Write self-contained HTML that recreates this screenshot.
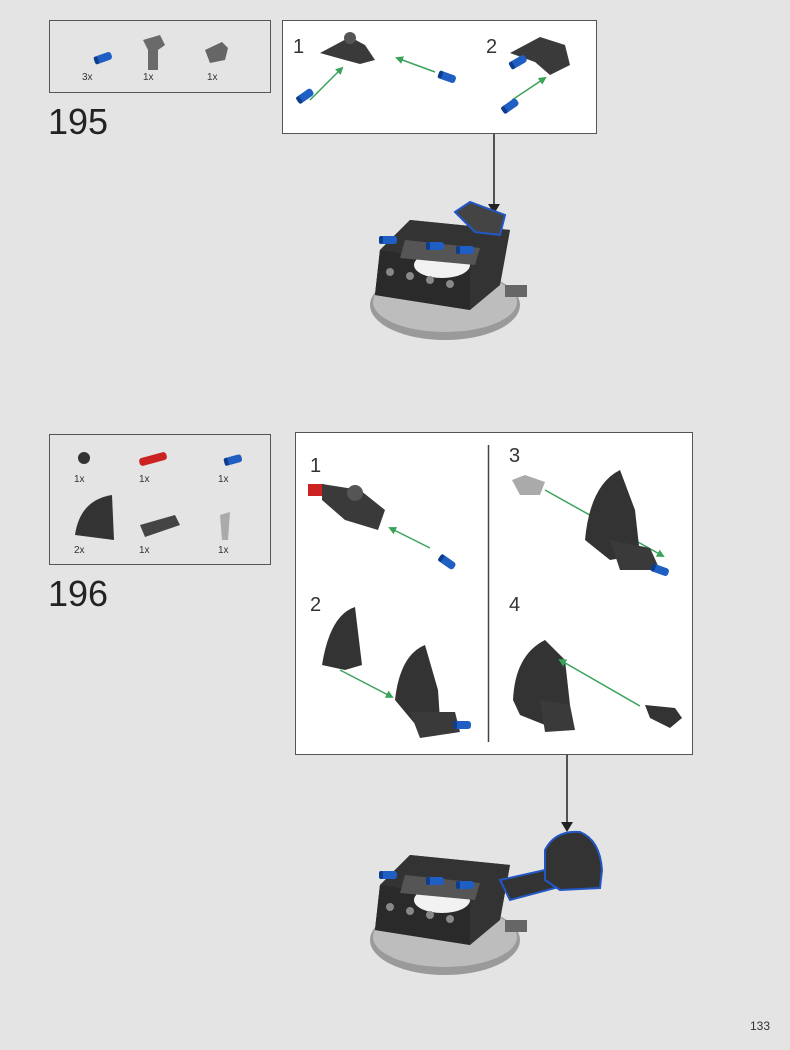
<!DOCTYPE html>
<html><head><style>
body{margin:0;background:#e4e4e4;}
svg{display:block;font-family:"Liberation Sans",sans-serif;}
</style></head><body>
<svg width="790" height="1050" viewBox="0 0 790 1050">
<defs>
<marker id="ah" markerWidth="10" markerHeight="12" refX="8" refY="6" orient="auto" markerUnits="userSpaceOnUse"><path d="M0,0 L10,6 L0,12 Z" fill="#222"/></marker>
<marker id="ga" markerWidth="8" markerHeight="8" refX="6" refY="4" orient="auto" markerUnits="userSpaceOnUse"><path d="M0,0 L8,4 L0,8 Z" fill="#3aa35a"/></marker>
<g id="pin"><rect x="-9" y="-4" width="18" height="8" rx="3" fill="#1f5fc4"/><rect x="-9" y="-4" width="4" height="8" rx="2" fill="#0e3d8c"/></g>
<g id="base">
<path d="M0,40 L30,10 L130,20 L120,75 L90,100 L-5,85 Z" fill="#3a3a3a"/>
<ellipse cx="65" cy="95" rx="75" ry="35" fill="#9a9a9a"/>
<ellipse cx="65" cy="92" rx="72" ry="30" fill="#bdbdbd"/>
<path d="M0,40 L30,10 L130,20 L120,75 L90,100 L-5,85 Z" fill="#333"/>
<path d="M0,40 L90,55 L90,100 L-5,85 Z" fill="#2a2a2a"/>
<ellipse cx="62" cy="55" rx="28" ry="13" fill="#f2f2f2"/>
<path d="M25,30 L100,38 L95,55 L20,48 Z" fill="#555"/>
<circle cx="10" cy="62" r="4" fill="#888"/><circle cx="30" cy="66" r="4" fill="#888"/><circle cx="50" cy="70" r="4" fill="#888"/><circle cx="70" cy="74" r="4" fill="#888"/>
<rect x="125" y="75" width="22" height="12" fill="#666"/>
<use href="#pin" transform="translate(8,30)"/>
<use href="#pin" transform="translate(55,36)"/>
<use href="#pin" transform="translate(85,40)"/>
</g>
</defs>

<!-- 195 -->
<rect x="49.5" y="20.5" width="221" height="72" fill="#e4e4e4" stroke="#555" stroke-width="1"/>
<use href="#pin" transform="translate(103,58) rotate(-20)"/>
<path d="M143,40 L160,35 L165,45 L158,50 L158,70 L148,70 L148,50 Z" fill="#6a6a6a"/>
<path d="M205,50 L222,42 L228,48 L225,60 L210,63 Z" fill="#666"/>
<text x="82" y="80" font-size="10" fill="#333">3x</text>
<text x="143" y="80" font-size="10" fill="#333">1x</text>
<text x="207" y="80" font-size="10" fill="#333">1x</text>
<text x="48" y="134" font-size="36" fill="#222">195</text>

<rect x="282.5" y="20.5" width="314" height="113" fill="#fff" stroke="#555"/>
<text x="293" y="53" font-size="20" fill="#333">1</text>
<text x="486" y="53" font-size="20" fill="#333">2</text>
<path d="M320,53 L350,37 L365,45 L375,60 L360,64 L345,60 Z" fill="#3a3a3a"/>
<circle cx="350" cy="38" r="6" fill="#555"/>
<line x1="310" y1="100" x2="342" y2="68" stroke="#3aa35a" stroke-width="1.5" marker-end="url(#ga)"/>
<use href="#pin" transform="translate(305,96) rotate(-35)"/>
<line x1="435" y1="72" x2="397" y2="58" stroke="#3aa35a" stroke-width="1.5" marker-end="url(#ga)"/>
<use href="#pin" transform="translate(447,77) rotate(20)"/>
<path d="M510,53 L540,37 L565,45 L570,65 L550,75 L535,62 Z" fill="#3a3a3a"/>
<use href="#pin" transform="translate(518,62) rotate(-30)"/>
<line x1="512" y1="100" x2="545" y2="78" stroke="#3aa35a" stroke-width="1.5" marker-end="url(#ga)"/>
<use href="#pin" transform="translate(510,106) rotate(-35)"/>

<line x1="494" y1="134" x2="494" y2="212" stroke="#222" stroke-width="1.5" marker-end="url(#ah)"/>
<use href="#base" transform="translate(380,210)"/>
<path d="M455,212 L470,202 L505,215 L500,235 L475,232 Z" fill="#444" stroke="#2357c4" stroke-width="2"/>

<!-- 196 -->
<rect x="49.5" y="434.5" width="221" height="130" fill="#e4e4e4" stroke="#555"/>
<circle cx="84" cy="458" r="6" fill="#333"/>
<rect x="139" y="455" width="28" height="8" rx="3" fill="#c22" transform="rotate(-15 153 459)"/>
<use href="#pin" transform="translate(233,460) rotate(-15)"/>
<path d="M75,535 Q80,500 112,495 L114,540 Z" fill="#333"/>
<path d="M140,525 L175,515 L180,525 L145,537 Z" fill="#444"/>
<path d="M220,515 L230,512 L228,540 L222,540 Z" fill="#aaa"/>
<text x="74" y="482" font-size="10" fill="#333">1x</text>
<text x="139" y="482" font-size="10" fill="#333">1x</text>
<text x="218" y="482" font-size="10" fill="#333">1x</text>
<text x="74" y="553" font-size="10" fill="#333">2x</text>
<text x="139" y="553" font-size="10" fill="#333">1x</text>
<text x="218" y="553" font-size="10" fill="#333">1x</text>
<text x="48" y="606" font-size="36" fill="#222">196</text>

<rect x="295.5" y="432.5" width="397" height="322" fill="#fff" stroke="#555"/>
<line x1="488.5" y1="445" x2="488.5" y2="742" stroke="#444" stroke-width="1.5"/>
<text x="310" y="472" font-size="20" fill="#333">1</text>
<text x="310" y="611" font-size="20" fill="#333">2</text>
<text x="509" y="462" font-size="20" fill="#333">3</text>
<text x="509" y="611" font-size="20" fill="#333">4</text>
<!-- step1 -->
<rect x="308" y="484" width="16" height="12" fill="#c22"/>
<path d="M322,484 L360,490 L385,510 L378,530 L345,520 L322,500 Z" fill="#3a3a3a"/>
<circle cx="355" cy="493" r="8" fill="#555"/>
<line x1="430" y1="548" x2="390" y2="528" stroke="#3aa35a" stroke-width="1.5" marker-end="url(#ga)"/>
<use href="#pin" transform="translate(447,562) rotate(35)"/>
<!-- step2 -->
<path d="M322,665 Q330,615 355,607 L362,665 L345,670 Z" fill="#333"/>
<line x1="340" y1="670" x2="392" y2="697" stroke="#3aa35a" stroke-width="1.5" marker-end="url(#ga)"/>
<path d="M395,700 Q400,655 425,645 L438,690 L440,720 L420,730 Z" fill="#333"/>
<path d="M410,712 L455,712 L460,732 L420,738 Z" fill="#3a3a3a"/>
<use href="#pin" transform="translate(462,725)"/>
<!-- step3 -->
<path d="M512,480 L525,475 L545,482 L540,495 L520,495 Z" fill="#aaa"/>
<line x1="545" y1="490" x2="663" y2="556" stroke="#3aa35a" stroke-width="1.5" marker-end="url(#ga)"/>
<path d="M585,540 Q590,485 620,470 L635,510 L640,555 L610,560 Z" fill="#333"/>
<path d="M610,540 L650,548 L660,570 L620,570 Z" fill="#3a3a3a"/>
<use href="#pin" transform="translate(660,570) rotate(20)"/>
<!-- step4 -->
<path d="M513,700 Q515,655 545,640 L565,660 L570,705 L545,725 L520,715 Z" fill="#333"/>
<path d="M540,700 L570,705 L575,730 L545,732 Z" fill="#3a3a3a"/>
<line x1="640" y1="706" x2="560" y2="660" stroke="#3aa35a" stroke-width="1.5" marker-end="url(#ga)"/>
<path d="M645,705 L675,708 L682,718 L670,728 L650,718 Z" fill="#333"/>

<line x1="567" y1="755" x2="567" y2="830" stroke="#222" stroke-width="1.5" marker-end="url(#ah)"/>
<use href="#base" transform="translate(380,845)"/>
<path d="M500,880 L545,870 L555,888 L510,900 Z" fill="#333" stroke="#2357c4" stroke-width="2"/>
<path d="M545,850 Q555,830 580,832 Q600,840 602,870 L600,888 L560,890 L545,880 Z" fill="#333" stroke="#2357c4" stroke-width="2"/>

<text x="750" y="1030" font-size="12" fill="#333">133</text>
</svg>
</body></html>
